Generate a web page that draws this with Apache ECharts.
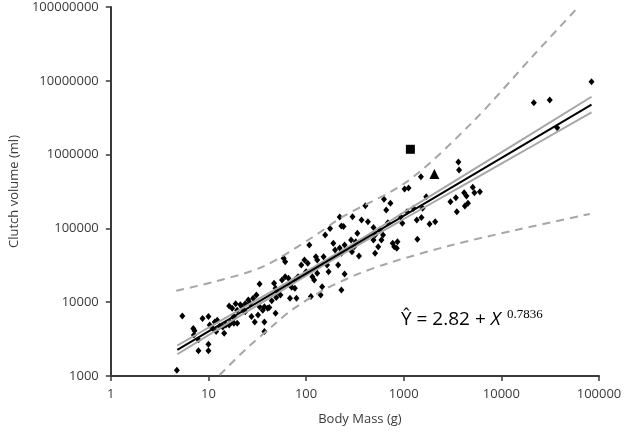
<!DOCTYPE html>
<html>
<head>
<meta charset="utf-8">
<script src="https://cdn.jsdelivr.net/npm/echarts@6/dist/echarts.min.js"></script>
<style>
  html, body { margin: 0; padding: 0; background: #fff; }
  #chart { width: 625px; height: 439px; }
</style>
</head>
<body>
<div id="chart"></div>
<script>
// body mass (g) and clutch volume (ml)
const massValues = [
  4.75, 5.4, 7.0, 7.2, 7.1, 7.9, 7.9, 10.0, 10.0, 8.7,
  10.0, 10.3, 11.6, 11.1, 12.0, 13.0, 14.5, 14.0, 15.1, 16.3,
  16.9, 18.2, 18.2, 16.3, 17.5, 19.0, 19.7, 22.0, 22.9, 23.8,
  25.6, 26.6, 28.7, 31.0, 27.6, 29.8, 33.4, 36.0, 37.4, 40.4,
  42.0, 37.4, 37.4, 48.7, 33.4, 47.0, 48.7, 50.6, 54.6, 56.7,
  61.1, 66.0, 58.9, 61.1, 68.4, 68.4, 76.7, 79.7, 82.8, 89.3,
  96.2, 100, 104, 108, 112, 116, 121, 126, 130, 146,
  141, 151, 157, 164, 170, 176, 190, 198, 213, 230,
  1500, 1020, 1120, 628, 731, 662, 405, 1700, 299, 221,
  370, 430, 230, 242, 490, 688, 930, 1080, 1260, 1560,
  1360, 1520, 1840, 2100, 967, 570, 614, 509, 490, 591,
  548, 509, 335, 289, 323, 248, 311, 295, 348, 771,
  863, 800, 849, 1380, 248, 221, 230,
  83800, 21500, 31300, 37300, 3630, 3690, 5100, 4160, 4390, 5300,
  6030, 3420, 3010, 4550, 4230, 3500,
  18.2, 19.7, 23.8, 32.2, 44.5, 49.5, 71.2, 76.7, 130, 21.2, 12.3
];
const volumeValues = [
  1200, 6500, 4400, 4100, 3600, 3100, 2200, 2200, 2700, 6000,
  6400, 4900, 5400, 4400, 4000, 4700, 3800, 4600, 4900, 4900,
  5300, 6100, 5200, 8900, 8300, 9500, 7800, 8700, 7800, 9500,
  10700, 9700, 11300, 12500, 6400, 5400, 8700, 7800, 8700, 8300,
  8500, 5400, 4000, 7100, 17700, 18000, 15400, 13900, 12500, 20000,
  22200, 21100, 39400, 35400, 17100, 11300, 15400, 11300, 22200, 31900,
  37300, 25900, 33600, 59600, 11900, 22200, 20000, 41400, 37300, 16200,
  12500, 41400, 81500, 31900, 25900, 100000, 62800, 50900, 31900, 14600,
  502000, 342000, 353000, 248000, 219000, 177000, 203000, 269000, 144000, 143000,
  130000, 123000, 108000, 106000, 103000, 119000, 144000, 168000, 187000, 187000,
  130000, 141000, 115000, 123000, 117000, 95000, 81500, 81500, 69700, 69700,
  56500, 46000, 85900, 69700, 66100, 59600, 56500, 48300, 42300, 62800,
  66100, 56500, 53700, 71100, 24100, 54200, 46000,
  9700000, 5050000, 5500000, 2310000, 794000, 618000, 361000, 305000, 275000, 305000,
  314000, 261000, 230000, 219000, 201000, 168000,
  6400, 5200, 7400, 6700, 10500, 11600, 15900, 20000, 24700, 9200, 5700
];

// the two highlighted species
const squarePoint = [1170, 1180000];
const trianglePoint = [2060, 546000];

// fitted line (ends)
const fitMass = [4.8, 83800];
const fitVolume = [2260, 4760000];

// 95% confidence band
const bandMass = [4.8, 31.6, 200, 1585, 10000, 83800];
const bandUpper = [2590, 10800, 44400, 239000, 1070000, 6080000];
const bandLower = [1970, 9060, 39500, 189000, 754000, 3730000];

// prediction limits
const predUpperMass = [4.68, 11.6, 36.1, 112, 238, 1080, 4920, 22300, 59600];
const predUpperVolume = [14300, 19000, 30300, 73500, 144000, 430000, 2650000, 23600000, 95900000];
const predLowerMass = [13.0, 24.7, 48.8, 71.1, 151, 323, 687, 3130, 14160, 80500];
const predLowerVolume = [1030, 2370, 5180, 7830, 14600, 23400, 33650, 59600, 95100, 156700];

const xTicks = [1, 10, 100, 1000, 10000, 100000];
const yTicks = [1000, 10000, 100000, 1000000, 10000000, 100000000];

const zip = (a, b) => a.map((v, i) => [v, b[i]]);

const gray = '#a6a6a6';
const axisColor = '#3a3a3a';
const font = '"Open Sans", sans-serif';

const chart = echarts.init(document.getElementById('chart'));
chart.setOption({
  animation: false,
  grid: { left: 92, right: 26, top: 7, bottom: 63 },
  xAxis: {
    type: 'log',
    logBase: 10,
    min: xTicks[0],
    max: xTicks[xTicks.length - 1],
    name: 'Body Mass (g)',
    nameLocation: 'middle',
    nameGap: 37,
    nameTextStyle: { fontFamily: font, fontSize: 13, color: axisColor, padding: [0, 0, 0, 10] },
    axisLine: { lineStyle: { color: axisColor, width: 2 } },
    axisTick: { show: true, length: 5, inside: false, lineStyle: { color: axisColor, width: 1.5 } },
    axisLabel: { fontFamily: font, fontSize: 13, color: axisColor, margin: 12,
      formatter: v => String(Math.round(v)) },
    splitLine: { show: false },
    minorTick: { show: false }
  },
  yAxis: {
    type: 'log',
    logBase: 10,
    min: yTicks[0],
    max: yTicks[yTicks.length - 1],
    name: 'Clutch volume (ml)',
    nameLocation: 'middle',
    nameGap: 76,
    nameTextStyle: { fontFamily: font, fontSize: 13, color: axisColor },
    axisLine: { show: true, lineStyle: { color: axisColor, width: 2 } },
    axisTick: { show: true, length: 5, inside: false, lineStyle: { color: axisColor, width: 1.5 } },
    axisLabel: { fontFamily: font, fontSize: 13, color: axisColor, margin: 12,
      formatter: v => String(Math.round(v)) },
    splitLine: { show: false },
    minorTick: { show: false }
  },
  series: [
    {
      type: 'scatter',
      data: zip(massValues, volumeValues),
      symbol: 'diamond',
      symbolSize: [6, 7],
      itemStyle: { color: '#000', opacity: 1 },
      z: 2
    },
    {
      type: 'scatter',
      data: [squarePoint],
      symbol: 'rect',
      symbolSize: 9,
      itemStyle: { color: '#000', opacity: 1 },
      z: 2
    },
    {
      type: 'scatter',
      data: [trianglePoint],
      symbol: 'triangle',
      symbolSize: 10,
      itemStyle: { color: '#000', opacity: 1 },
      z: 2
    },
    {
      type: 'line',
      data: zip(predUpperMass, predUpperVolume),
      showSymbol: false,
      smooth: 0.3,
      lineStyle: { color: gray, width: 2, type: [8, 6] },
      z: 3
    },
    {
      type: 'line',
      data: zip(predLowerMass, predLowerVolume),
      showSymbol: false,
      smooth: 0.3,
      lineStyle: { color: gray, width: 2, type: [8, 6] },
      z: 3
    },
    {
      type: 'line',
      data: zip(bandMass, bandUpper),
      showSymbol: false,
      smooth: 0.4,
      lineStyle: { color: gray, width: 2 },
      z: 3
    },
    {
      type: 'line',
      data: zip(bandMass, bandLower),
      showSymbol: false,
      smooth: 0.4,
      lineStyle: { color: gray, width: 2 },
      z: 3
    },
    {
      type: 'line',
      data: zip(fitMass, fitVolume),
      showSymbol: false,
      lineStyle: { color: '#000', width: 2 },
      z: 4
    }
  ],
  graphic: [{
    type: 'text',
    left: 401,
    top: 308,
    style: {
      text: '{a|Ŷ = 2.82 + }{x|X}{s|  0.7836}',
      rich: {
        a: { fontFamily: font, fontSize: 19, fill: '#000' },
        x: { fontFamily: font, fontSize: 19, fontStyle: 'italic', fill: '#000' },
        s: { fontFamily: '"Liberation Serif", serif', fontSize: 13, fill: '#000', padding: [0, 0, 10, 0] }
      }
    }
  }]
});
</script>
</body>
</html>
